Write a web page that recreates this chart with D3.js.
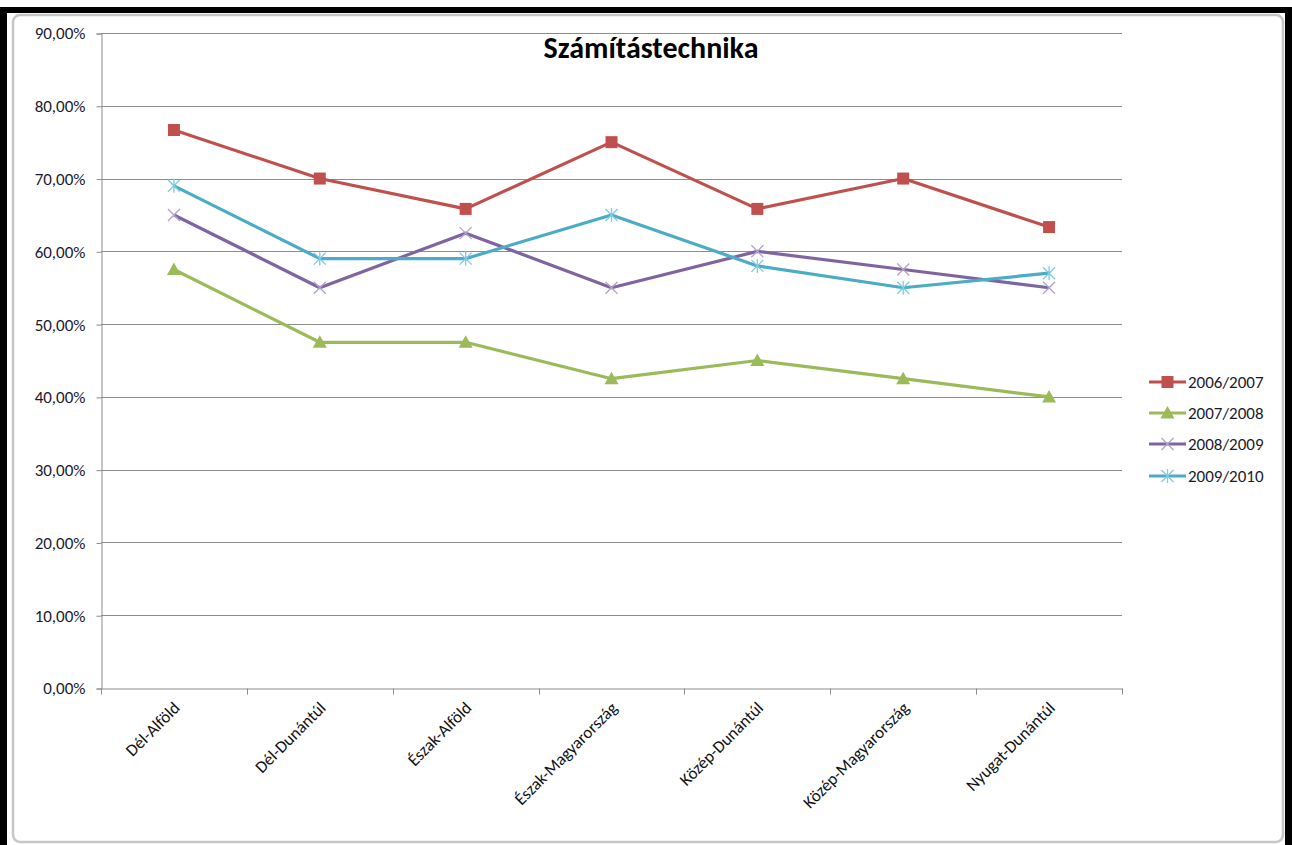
<!DOCTYPE html>
<html>
<head>
<meta charset="utf-8">
<script src="https://cdn.jsdelivr.net/npm/d3@7"></script>
<style>
  body { margin: 0; background: #fff; }
  svg { display: block; }
</style>
</head>
<body>
<svg id="chart"></svg>
<script>
var width = 1292, height = 845;

var categories = ["Dél-Alföld", "Dél-Dunántúl", "Észak-Alföld", "Észak-Magyarország", "Közép-Dunántúl", "Közép-Magyarország", "Nyugat-Dunántúl"];
var seriesNames = ["2006/2007", "2007/2008", "2008/2009", "2009/2010"];
var v2006 = [76.67, 70.0, 65.83, 75.0, 65.83, 70.0, 63.33];
var v2007 = [57.5, 47.5, 47.5, 42.5, 45.0, 42.5, 40.0];
var v2008 = [65.0, 55.0, 62.5, 55.0, 60.0, 57.5, 55.0];
var v2009 = [69.0, 59.0, 59.0, 65.0, 58.0, 55.0, 57.0];
var yTicks = [0, 10, 20, 30, 40, 50, 60, 70, 80, 90];

var colors = ["#C0504D", "#9BBB59", "#8064A2", "#4BACC6"];
var markerColors = ["#C0504D", "#9BBB59", "#B3A2CC", "#7FCBE0"];
var markers = ["square", "triangle", "x", "star"];
var allValues = [v2006, v2007, v2008, v2009];

var plot = {left: 101, right: 1122, top: 33, bottom: 688};
var font = "Carlito, Lato, 'Open Sans', sans-serif";

var svg = d3.select("#chart").attr("width", width).attr("height", height);

// frame
svg.append("rect").attr("x", 0).attr("y", 7).attr("width", width).attr("height", 6).attr("fill", "#000");
svg.append("rect").attr("x", 0).attr("y", 7).attr("width", 7).attr("height", height).attr("fill", "#000");
svg.append("rect").attr("x", 1285).attr("y", 7).attr("width", 7).attr("height", height).attr("fill", "#000");
svg.append("rect").attr("x", 13).attr("y", 15).attr("width", 1270).attr("height", 827)
  .attr("rx", 7).attr("fill", "#fff").attr("stroke", "#c6c6c6").attr("stroke-width", 2.5);

var x = d3.scaleBand().domain(categories).range([plot.left, plot.right]).padding(0);
var y = d3.scaleLinear().domain([0, 90]).range([plot.bottom, plot.top]);

// grid
svg.append("g").selectAll("line").data(yTicks.filter(function(d){ return d > 0; })).enter()
  .append("line")
  .attr("x1", plot.left).attr("x2", plot.right)
  .attr("y1", function(d){ return Math.round(y(d)) + 0.5; })
  .attr("y2", function(d){ return Math.round(y(d)) + 0.5; })
  .attr("stroke", "#8c8c8c").attr("stroke-width", 1);

// y axis
var yAxis = d3.axisLeft(y).tickValues(yTicks).tickSize(5).tickPadding(11)
  .tickFormat(function(d){ return d3.format(".2f")(d).replace(".", ",") + "%"; });
var gy = svg.append("g").attr("transform", "translate(" + (plot.left + 0.5) + ",0.5)").call(yAxis);
gy.select(".domain").attr("stroke", "#8c8c8c");
gy.selectAll(".tick line").attr("stroke", "#8c8c8c");
gy.selectAll("text").attr("font-family", font).attr("font-size", "17px").attr("fill", "#1a1a2e");

// x axis
var xAxis = d3.axisBottom(x).tickSize(0).tickFormat("");
var gx = svg.append("g").attr("transform", "translate(0," + (plot.bottom + 0.5) + ")").call(xAxis);
gx.select(".domain").attr("stroke", "#8c8c8c");
var bounds = categories.map(function(c){ return x(c); }).concat([plot.right]);
gx.selectAll(".bound").data(bounds).enter().append("line")
  .attr("x1", function(d){ return Math.round(d) + 0.5; })
  .attr("x2", function(d){ return Math.round(d) + 0.5; })
  .attr("y1", 0).attr("y2", 6).attr("stroke", "#8c8c8c");

svg.append("g").selectAll("text").data(categories).enter().append("text")
  .attr("transform", function(d){
    return "translate(" + (x(d) + x.bandwidth() / 2 + 7) + "," + (plot.bottom + 21) + ") rotate(-45)";
  })
  .attr("text-anchor", "end")
  .attr("font-family", font).attr("font-size", "17px").attr("fill", "#111")
  .text(function(d){ return d; });

// title
svg.append("text").attr("x", 651).attr("y", 58).attr("text-anchor", "middle")
  .attr("font-family", font).attr("font-weight", "bold").attr("font-size", "30px").attr("fill", "#000")
  .text("Számítástechnika");

function drawMarker(g, type, cx, cy, color) {
  if (type === "square") {
    g.append("rect").attr("x", cx - 6).attr("y", cy - 6).attr("width", 12).attr("height", 12).attr("fill", color);
  } else if (type === "triangle") {
    g.append("path").attr("d", "M" + cx + "," + (cy - 7) + "L" + (cx + 7) + "," + (cy + 5.5) + "L" + (cx - 7) + "," + (cy + 5.5) + "Z").attr("fill", color);
  } else if (type === "x") {
    g.append("path").attr("d", "M" + (cx - 6) + "," + (cy - 6) + "L" + (cx + 6) + "," + (cy + 6) + "M" + (cx - 6) + "," + (cy + 6) + "L" + (cx + 6) + "," + (cy - 6))
      .attr("stroke", color).attr("stroke-width", 1.3).attr("fill", "none");
  } else {
    g.append("path").attr("d", "M" + (cx - 6) + "," + (cy - 6) + "L" + (cx + 6) + "," + (cy + 6) + "M" + (cx - 6) + "," + (cy + 6) + "L" + (cx + 6) + "," + (cy - 6) + "M" + cx + "," + (cy - 7) + "L" + cx + "," + (cy + 7))
      .attr("stroke", color).attr("stroke-width", 1.3).attr("fill", "none");
  }
}

var line = d3.line()
  .x(function(d, i){ return x(categories[i]) + x.bandwidth() / 2; })
  .y(function(d){ return y(d); });

allValues.forEach(function(vals, s){
  var g = svg.append("g");
  g.append("path").datum(vals).attr("d", line)
    .attr("fill", "none").attr("stroke", colors[s]).attr("stroke-width", 3.2).attr("stroke-linejoin", "round");
  vals.forEach(function(v, i){
    drawMarker(g, markers[s], x(categories[i]) + x.bandwidth() / 2, y(v), markerColors[s]);
  });
});

// legend
var legendY = [382, 413, 444, 476];
seriesNames.forEach(function(name, s){
  var g = svg.append("g");
  g.append("line").attr("x1", 1149).attr("x2", 1186).attr("y1", legendY[s]).attr("y2", legendY[s])
    .attr("stroke", colors[s]).attr("stroke-width", 3.2);
  drawMarker(g, markers[s], 1167.5, legendY[s], markerColors[s]);
  g.append("text").attr("x", 1188).attr("y", legendY[s] + 6)
    .attr("font-family", font).attr("font-size", "17px").attr("fill", "#1a1a2e").text(name);
});
</script>
</body>
</html>
